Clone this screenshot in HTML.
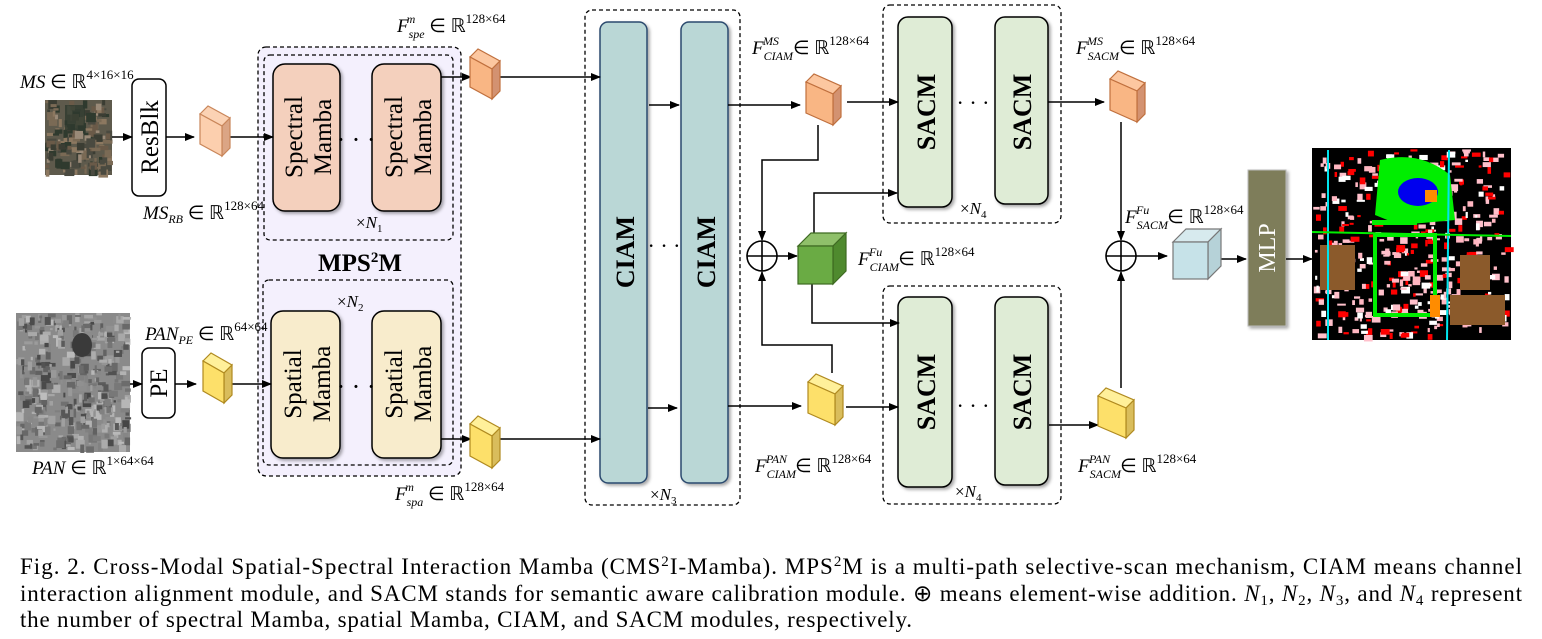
<!DOCTYPE html>
<html><head><meta charset="utf-8"><style>
html,body{margin:0;padding:0;background:#fff;width:1542px;height:639px;overflow:hidden}
svg text{font-family:"Liberation Serif",serif}
.lab{font-size:19px;font-style:italic}
.sm{font-size:12px;font-style:italic}
.up{font-size:13px;font-style:normal}
.rt{font-size:17px;font-style:normal}
</style></head><body>
<svg id="s" width="1542" height="639" viewBox="0 0 1542 639" xmlns="http://www.w3.org/2000/svg">
<defs>
<marker id="a" markerWidth="10" markerHeight="8" refX="9" refY="4" orient="auto" markerUnits="userSpaceOnUse"><path d="M0,0 L10,4 L0,8 z" fill="#000"/></marker>
<filter id="sh" x="-20%" y="-10%" width="140%" height="120%"><feDropShadow dx="2" dy="2" stdDeviation="1.5" flood-color="#000" flood-opacity="0.35"/></filter>
</defs>
<g id="imgs"></g>
<rect x="258" y="47" width="203" height="429" rx="8" fill="#f4f0fd" stroke="#000" stroke-dasharray="4,3" stroke-width="1.3"/>
<rect x="264" y="55" width="189" height="185" rx="6" fill="none" stroke="#000" stroke-dasharray="4,3" stroke-width="1.3"/>
<rect x="263" y="280" width="190" height="185" rx="6" fill="none" stroke="#000" stroke-dasharray="4,3" stroke-width="1.3"/>
<g filter="url(#sh)" stroke="#000" stroke-width="1.5">
<rect x="273" y="64" width="67" height="147" rx="12" fill="#f4d0bd"/>
<rect x="372" y="64" width="69" height="147" rx="12" fill="#f4d0bd"/>
<rect x="271" y="311" width="69" height="147" rx="12" fill="#f8eccc"/>
<rect x="372" y="311" width="69" height="147" rx="12" fill="#f8eccc"/>
</g>
<g font-size="25" text-anchor="middle">
<text transform="translate(306,137) rotate(-90)"><tspan x="0" y="-4">Spectral</tspan><tspan x="0" y="25">Mamba</tspan></text>
<text transform="translate(406,137) rotate(-90)"><tspan x="0" y="-4">Spectral</tspan><tspan x="0" y="25">Mamba</tspan></text>
<text transform="translate(305,384) rotate(-90)"><tspan x="0" y="-4">Spatial</tspan><tspan x="0" y="25">Mamba</tspan></text>
<text transform="translate(406,384) rotate(-90)"><tspan x="0" y="-4">Spatial</tspan><tspan x="0" y="25">Mamba</tspan></text>
</g>
<text x="356" y="148" font-size="26" text-anchor="middle">· · ·</text>
<text x="356" y="395" font-size="26" text-anchor="middle">· · ·</text>
<text x="360" y="271" font-size="25" font-weight="bold" text-anchor="middle">MPS<tspan font-size="15" dy="-9">2</tspan><tspan dy="9">M</tspan></text>
<text x="356" y="228" class="rt">×<tspan font-style="italic">N</tspan><tspan font-size="11" dy="4">1</tspan></text>
<text x="337" y="307" class="rt">×<tspan font-style="italic">N</tspan><tspan font-size="11" dy="4">2</tspan></text>
<rect x="132" y="79" width="34" height="117" rx="7" fill="#fff" stroke="#000" stroke-width="1.5"/>
<text transform="translate(158,137) rotate(-90)" font-size="25" text-anchor="middle">ResBlk</text>
<rect x="142" y="348" width="33" height="70" rx="7" fill="#fff" stroke="#000" stroke-width="1.5"/>
<text transform="translate(167,383) rotate(-90)" font-size="25" text-anchor="middle">PE</text>
<rect x="585" y="10" width="155" height="495" rx="7" fill="none" stroke="#000" stroke-dasharray="4,3" stroke-width="1.3"/>
<g filter="url(#sh)" stroke="#2c4a6e" stroke-width="1.5" fill="#bad7d6">
<rect x="600" y="22" width="47" height="461" rx="8"/>
<rect x="681" y="22" width="47" height="461" rx="8"/>
</g>
<g font-size="26" font-weight="bold" text-anchor="middle">
<text transform="translate(634,252) rotate(-90)">CIAM</text>
<text transform="translate(715,252) rotate(-90)">CIAM</text>
</g>
<text x="664" y="253" font-size="22" text-anchor="middle">· · ·</text>
<text x="650" y="500" class="rt">×<tspan font-style="italic">N</tspan><tspan font-size="11" dy="4">3</tspan></text>
<rect x="883" y="5" width="178" height="218" rx="7" fill="none" stroke="#000" stroke-dasharray="4,3" stroke-width="1.3"/>
<rect x="883" y="286" width="178" height="218" rx="7" fill="none" stroke="#000" stroke-dasharray="4,3" stroke-width="1.3"/>
<g filter="url(#sh)" stroke="#000" stroke-width="1.5" fill="#dfecd6">
<rect x="898" y="17" width="54" height="190" rx="10"/>
<rect x="995" y="17" width="53" height="187" rx="10"/>
<rect x="898" y="297" width="54" height="190" rx="10"/>
<rect x="995" y="297" width="53" height="188" rx="10"/>
</g>
<g font-size="26" font-weight="bold" text-anchor="middle">
<text transform="translate(935,112) rotate(-90)">SACM</text>
<text transform="translate(1031,112) rotate(-90)">SACM</text>
<text transform="translate(935,392) rotate(-90)">SACM</text>
<text transform="translate(1031,392) rotate(-90)">SACM</text>
</g>
<text x="973" y="110" font-size="22" text-anchor="middle">· · ·</text>
<text x="973" y="413" font-size="22" text-anchor="middle">· · ·</text>
<text x="960" y="214" class="rt">×<tspan font-style="italic">N</tspan><tspan font-size="11" dy="4">4</tspan></text>
<text x="955" y="497" class="rt">×<tspan font-style="italic">N</tspan><tspan font-size="11" dy="4">4</tspan></text>
<rect x="1248" y="170" width="38" height="156" fill="#7e7d5a" stroke="#bbb" filter="url(#sh)"/>
<text transform="translate(1275,248) rotate(-90)" font-size="24" fill="#fff" text-anchor="middle">MLP</text>
<g stroke="#000" stroke-width="1.5" fill="none" marker-end="url(#a)">
<line x1="112" y1="137" x2="132" y2="137"/>
<line x1="166" y1="137" x2="194" y2="137"/>
<line x1="230" y1="137" x2="273" y2="137"/>
<line x1="130" y1="384" x2="142" y2="384"/>
<line x1="175" y1="384" x2="196" y2="384"/>
<line x1="232" y1="384" x2="271" y2="384"/>
<line x1="441" y1="77" x2="471" y2="77"/>
<line x1="500" y1="77" x2="600" y2="77"/>
<line x1="441" y1="439" x2="471" y2="439"/>
<line x1="500" y1="439" x2="600" y2="439"/>
<line x1="649" y1="105" x2="679" y2="105"/>
<line x1="648" y1="408" x2="677" y2="408"/>
<line x1="728" y1="105" x2="800" y2="105"/>
<line x1="728" y1="406" x2="801" y2="406"/>
<line x1="847" y1="102" x2="898" y2="102"/>
<line x1="846" y1="407" x2="898" y2="407"/>
<polyline points="818,125 818,160 762,160 762,240"/>
<polyline points="832,373 832,345 762,345 762,272"/>
<line x1="777" y1="256" x2="797" y2="256"/>
<polyline points="814,233 814,193 897,193"/>
<polyline points="812,284 812,323 899,323"/>
<line x1="1048" y1="102" x2="1104" y2="102"/>
<line x1="1049" y1="425" x2="1098" y2="425"/>
<line x1="1121" y1="122" x2="1121" y2="240"/>
<line x1="1121" y1="388" x2="1121" y2="272"/>
<line x1="1136" y1="256" x2="1167" y2="256"/>
<line x1="1221" y1="259" x2="1246" y2="259"/>
<line x1="1286" y1="259" x2="1312" y2="259"/>
</g>
<g stroke="#000" stroke-width="1.6" fill="#fff">
<circle cx="762" cy="256" r="15"/><line x1="747" y1="256" x2="777" y2="256"/><line x1="762" y1="241" x2="762" y2="271"/>
<circle cx="1121" cy="256" r="15"/><line x1="1106" y1="256" x2="1136" y2="256"/><line x1="1121" y1="241" x2="1121" y2="271"/>
</g>
<g id="cubes"></g>
<g stroke="#3e6a22" stroke-width="1.2">
<polygon points="798,246 811,233 846,233 833,246" fill="#8fc06a"/>
<polygon points="833,246 846,233 846,271 833,284" fill="#4f8a2e"/>
<rect x="798" y="246" width="35" height="38" fill="#6aab44"/>
</g>
<g stroke="#777" stroke-width="1.2">
<polygon points="1173,242 1186,229 1221,229 1208,242" fill="#d7eaee"/>
<polygon points="1208,242 1221,229 1221,266 1208,279" fill="#b6d2d8"/>
<rect x="1173" y="242" width="35" height="37" fill="#c6e2e8"/>
</g>
<text x="20" y="88" class="lab">MS <tspan font-style="normal">∈ ℝ</tspan><tspan class="up" dy="-9">4×16×16</tspan></text>
<text x="143" y="219" class="lab">MS<tspan class="sm" dy="4">RB</tspan><tspan font-style="normal" dy="-4"> ∈ ℝ</tspan><tspan class="up" dy="-9">128×64</tspan></text>
<text x="145" y="340" class="lab">PAN<tspan class="sm" dy="4">PE</tspan><tspan font-style="normal" dy="-4"> ∈ ℝ</tspan><tspan class="up" dy="-9">64×64</tspan></text>
<text x="32" y="474" class="lab">PAN <tspan font-style="normal">∈ ℝ</tspan><tspan class="up" dy="-9">1×64×64</tspan></text>
<text x="397" y="32" class="lab">F<tspan class="sm" dy="6">spe</tspan><tspan class="sm" dx="-18" dy="-15">m</tspan><tspan font-style="normal" dx="14" dy="9">∈ ℝ</tspan><tspan class="up" dy="-9">128×64</tspan></text>
<text x="395" y="500" class="lab">F<tspan class="sm" dy="6">spa</tspan><tspan class="sm" dx="-18" dy="-15">m</tspan><tspan font-style="normal" dx="14" dy="9">∈ ℝ</tspan><tspan class="up" dy="-9">128×64</tspan></text>
<text x="752" y="54" class="lab">F<tspan class="sm" dy="6">CIAM</tspan><tspan class="sm" dx="-30" dy="-15">MS</tspan><tspan font-style="normal" dx="14" dy="9">∈ ℝ</tspan><tspan class="up" dy="-9">128×64</tspan></text>
<text x="858" y="265" class="lab">F<tspan class="sm" dy="6">CIAM</tspan><tspan class="sm" dx="-30" dy="-15">Fu</tspan><tspan font-style="normal" dx="16" dy="9">∈ ℝ</tspan><tspan class="up" dy="-9">128×64</tspan></text>
<text x="755" y="472" class="lab">F<tspan class="sm" dy="6">CIAM</tspan><tspan class="sm" dx="-30" dy="-15">PAN</tspan><tspan font-style="normal" dx="8" dy="9">∈ ℝ</tspan><tspan class="up" dy="-9">128×64</tspan></text>
<text x="1076" y="54" class="lab">F<tspan class="sm" dy="6">SACM</tspan><tspan class="sm" dx="-32" dy="-15">MS</tspan><tspan font-style="normal" dx="16" dy="9">∈ ℝ</tspan><tspan class="up" dy="-9">128×64</tspan></text>
<text x="1125" y="223" class="lab">F<tspan class="sm" dy="6">SACM</tspan><tspan class="sm" dx="-32" dy="-15">Fu</tspan><tspan font-style="normal" dx="18" dy="9">∈ ℝ</tspan><tspan class="up" dy="-9">128×64</tspan></text>
<text x="1078" y="472" class="lab">F<tspan class="sm" dy="6">SACM</tspan><tspan class="sm" dx="-32" dy="-15">PAN</tspan><tspan font-style="normal" dx="10" dy="9">∈ ℝ</tspan><tspan class="up" dy="-9">128×64</tspan></text>
<g font-size="23">
<text x="20" y="574" textLength="1502" lengthAdjust="spacing">Fig. 2.  Cross-Modal Spatial-Spectral Interaction Mamba (CMS<tspan font-size="15" dy="-8">2</tspan><tspan dy="8">I-Mamba). MPS</tspan><tspan font-size="15" dy="-8">2</tspan><tspan dy="8">M is a multi-path selective-scan mechanism, CIAM means channel</tspan></text>
<text x="20" y="601" textLength="1502" lengthAdjust="spacing">interaction alignment module, and SACM stands for semantic aware calibration module. ⊕ means element-wise addition. <tspan font-style="italic">N</tspan><tspan font-size="15" dy="4">1</tspan><tspan dy="-4">, </tspan><tspan font-style="italic">N</tspan><tspan font-size="15" dy="4">2</tspan><tspan dy="-4">, </tspan><tspan font-style="italic">N</tspan><tspan font-size="15" dy="4">3</tspan><tspan dy="-4">, and </tspan><tspan font-style="italic">N</tspan><tspan font-size="15" dy="4">4</tspan><tspan dy="-4"> represent</tspan></text>
<text x="20" y="627" textLength="892" lengthAdjust="spacing">the number of spectral Mamba, spatial Mamba, CIAM, and SACM modules, respectively.</text>
</g>
</svg>
<script>
var NS="http://www.w3.org/2000/svg";
function el(p,t,a){var e=document.createElementNS(NS,t);for(var k in a)e.setAttribute(k,a[k]);p.appendChild(e);return e;}
var cg=document.getElementById("cubes");
function slab(x,y,w,h,c1,c2,c3,st){
 var d=8,fw=w-d;
 el(cg,"polygon",{points:[x,y+d,x+d,y,x+w,y+12,x+fw,y+12+d].join(" "),fill:c1,stroke:st,"stroke-width":1.2});
 el(cg,"polygon",{points:[x+fw,y+12+d,x+w,y+12,x+w,y+h-d,x+fw,y+h].join(" "),fill:c3,stroke:st,"stroke-width":1.2});
 el(cg,"polygon",{points:[x,y+d,x+fw,y+12+d,x+fw,y+h,x,y+h-12].join(" "),fill:c2,stroke:st,"stroke-width":1.2});
}
var O=["#fcc7a0","#f9b684","#d39271","#c0703e"],Oo=["#fbd2b4","#fccfae","#dba585","#c9865a"],Y=["#fff09a","#fde06a","#d9bd5c","#b08a20"];
slab(200,106,30,50,Oo[0],Oo[1],Oo[2],Oo[3]);
slab(203,353,29,50,Y[0],Y[1],Y[2],Y[3]);
slab(470,49,30,50,O[0],O[1],O[2],O[3]);
slab(470,416,30,52,Y[0],Y[1],Y[2],Y[3]);
slab(806,74,35,51,O[0],O[1],O[2],O[3]);
slab(808,374,35,51,Y[0],Y[1],Y[2],Y[3]);
slab(1110,71,35,51,O[0],O[1],O[2],O[3]);
slab(1098,388,36,50,Y[0],Y[1],Y[2],Y[3]);
var ig=document.getElementById("imgs");
function rnd(s){return function(){s=(s*16807)%2147483647;return s/2147483647;}}
var r=rnd(7);
el(ig,"rect",{x:45,y:100,width:67,height:75,fill:"#5e5a4c"});
for(var i=0;i<160;i++){var cs=["#3b3d33","#7a6a55","#8c7860","#2f3a2e","#9a8a78","#6a5a48","#4a4a40"];el(ig,"rect",{x:45+r()*62,y:100+r()*70,width:2+r()*8,height:2+r()*8,fill:cs[Math.floor(r()*cs.length)]});}
el(ig,"rect",{x:65,y:105,width:20,height:25,fill:"#2e3a2e",opacity:0.8});
el(ig,"rect",{x:16,y:313,width:114,height:139,fill:"#8a8a8a"});
for(var i=0;i<450;i++){var g=Math.floor(70+r()*120);el(ig,"rect",{x:16+r()*110,y:313+r()*135,width:2+r()*7,height:2+r()*7,fill:"rgb("+g+","+g+","+g+")"});}
el(ig,"ellipse",{cx:82,cy:345,rx:10,ry:12,fill:"#3a3a3a"});
el(ig,"rect",{x:1312,y:148,width:199,height:192,fill:"#000"});
var mc=["#ffc0cb","#ff0000","#ffb6c1","#ffffff","#ff0000","#ffc0cb"];
for(var i=0;i<420;i++){el(ig,"rect",{x:1313+r()*192,y:149+r()*186,width:2+r()*7,height:2+r()*5,fill:mc[Math.floor(r()*mc.length)]});}
el(ig,"path",{d:"M1380,160 Q1420,150 1450,175 L1455,220 L1400,225 L1375,215 Z",fill:"#00ee00"});
el(ig,"ellipse",{cx:1418,cy:192,rx:20,ry:14,fill:"#0000ee"});
el(ig,"rect",{x:1320,y:245,width:35,height:45,fill:"#8b5a2b"});
el(ig,"rect",{x:1450,y:295,width:55,height:30,fill:"#8b5a2b"});
el(ig,"rect",{x:1460,y:255,width:30,height:35,fill:"#8b5a2b"});
el(ig,"rect",{x:1372,y:220,width:45,height:5,fill:"#00ee00"});
el(ig,"path",{d:"M1375,235 h60 v80 h-60 z",fill:"none",stroke:"#00ee00","stroke-width":4});
el(ig,"rect",{x:1425,y:190,width:12,height:12,fill:"#ff8c00"});
el(ig,"rect",{x:1430,y:295,width:10,height:22,fill:"#ff8c00"});
el(ig,"line",{x1:1328,y1:150,x2:1328,y2:340,stroke:"#00e5ee","stroke-width":2});
el(ig,"line",{x1:1449,y1:150,x2:1447,y2:340,stroke:"#00e5ee","stroke-width":2});
el(ig,"line",{x1:1312,y1:232,x2:1511,y2:236,stroke:"#00ee00","stroke-width":2});
</script>
</body></html>
